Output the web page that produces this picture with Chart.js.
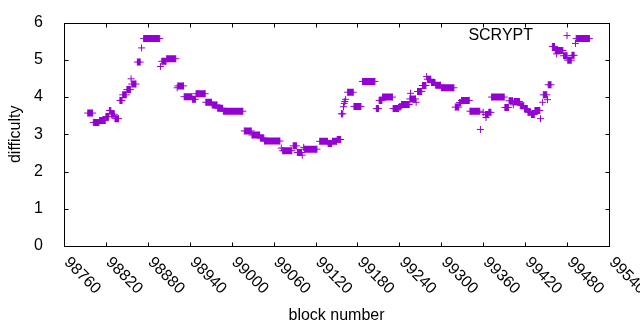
<!DOCTYPE html>
<html>
<head>
<meta charset="utf-8">
<script src="https://cdn.jsdelivr.net/npm/chart.js@4.4.1/dist/chart.umd.min.js"></script>
<style>
  html, body { margin: 0; padding: 0; background: #fff; }
  canvas { display: block; }
</style>
</head>
<body>
<canvas id="diffChart" width="640" height="330"></canvas>
<script>
// DATA ---------------------------------------------------------------------------
// difficulty stays flat over runs of blocks: first block, last block, level
const runStart = [98794, 98802, 98811, 98820, 98825, 98828, 98833, 98840, 98844, 98850,
    98856, 98857, 98865, 98871, 98874, 98898, 98900, 98907, 98922, 98923,
    98932, 98944, 98949, 98963, 98972, 98980, 98988, 99018, 99029, 99041,
    99047, 99071, 99073, 99088, 99094, 99101, 99103, 99104, 99126, 99138,
    99144, 99151, 99157, 99160, 99161, 99162, 99163, 99166, 99175, 99187,
    99207, 99211, 99216, 99231, 99240, 99243, 99255, 99256, 99264, 99266,
    99273, 99279, 99280, 99286, 99292, 99300, 99320, 99326, 99329, 99341,
    99356, 99360, 99363, 99364, 99368, 99372, 99391, 99397, 99403, 99404,
    99413, 99419, 99424, 99429, 99434, 99442, 99445, 99446, 99452, 99453,
    99459, 99463, 99465, 99475, 99481, 99487, 99492, 99493];
const runEnd = [98801, 98810, 98819, 98824, 98827, 98832, 98838, 98843, 98849, 98855,
    98856, 98863, 98869, 98871, 98897, 98898, 98906, 98920, 98922, 98931,
    98943, 98948, 98962, 98971, 98979, 98987, 99016, 99028, 99040, 99046,
    99069, 99071, 99086, 99093, 99100, 99101, 99103, 99122, 99137, 99143,
    99150, 99156, 99159, 99160, 99161, 99162, 99163, 99174, 99185, 99205,
    99210, 99215, 99230, 99239, 99242, 99254, 99263, 99256, 99264, 99272,
    99278, 99279, 99285, 99291, 99299, 99318, 99325, 99328, 99340, 99355,
    99356, 99360, 99367, 99364, 99371, 99390, 99396, 99402, 99403, 99412,
    99418, 99423, 99428, 99433, 99441, 99442, 99445, 99451, 99452, 99457,
    99462, 99474, 99465, 99480, 99486, 99490, 99492, 99512];
const runLevel = [3.57, 3.32, 3.37, 3.48, 3.64, 3.54, 3.42, 3.91, 4.06, 4.20,
    4.49, 4.35, 4.94, 5.32, 5.57, 4.82, 4.96, 5.03, 4.25, 4.30,
    4.01, 3.94, 4.09, 3.86, 3.79, 3.70, 3.62, 3.09, 2.98, 2.90,
    2.82, 2.63, 2.56, 2.69, 2.51, 2.44, 2.65, 2.60, 2.81, 2.75,
    2.81, 2.86, 3.55, 3.74, 3.83, 3.88, 3.94, 4.13, 3.75, 4.42,
    3.69, 3.91, 4.00, 3.69, 3.74, 3.80, 3.95, 4.10, 3.86, 4.15,
    4.31, 4.55, 4.48, 4.39, 4.32, 4.25, 3.73, 3.85, 3.91, 3.62,
    3.13, 3.59, 3.53, 3.45, 3.59, 4.00, 3.72, 3.90, 3.79, 3.88,
    3.77, 3.69, 3.59, 3.53, 3.64, 3.42, 3.86, 4.06, 3.93, 4.33,
    5.36, 5.25, 5.16, 5.11, 4.99, 5.12, 5.44, 5.57];

const seriesName = 'SCRYPT';
const xTitle = 'block number';
const yTitle = 'difficulty';
const xMin = 98760, xMax = 99540, xStep = 60;
const yMin = 0, yMax = 6, yStep = 1;

const PURPLE = '#9400d3';
const FONT = '"Liberation Sans", Arial, sans-serif';

// each run -> its two end points, a null breaks the thick line between runs
const points = [];
runStart.forEach((s, i) => {
    points.push({ x: s, y: runLevel[i] });
    if (runEnd[i] !== s) points.push({ x: runEnd[i], y: runLevel[i] });
    points.push({ x: runEnd[i], y: null });
});

// gnuplot style box, inward ticks, rotated x labels, key ---------------------------
const gnuplotFrame = {
    id: 'gnuplotFrame',
    beforeDatasetsDraw(chart) {
        const { ctx, chartArea: a, scales: { x, y } } = chart;
        const L = Math.round(a.left) + 0.5, R = Math.round(a.right) + 0.5;
        const T = Math.round(a.top) + 0.5, B = Math.round(a.bottom) + 0.5;
        const tick = 4;
        ctx.save();
        ctx.strokeStyle = '#000';
        ctx.lineWidth = 1;
        ctx.strokeRect(L, T, R - L, B - T);
        ctx.beginPath();
        x.ticks.forEach(t => {
            const px = Math.round(x.getPixelForValue(t.value)) + 0.5;
            ctx.moveTo(px, B); ctx.lineTo(px, B - tick);
            ctx.moveTo(px, T); ctx.lineTo(px, T + tick);
        });
        y.ticks.forEach(t => {
            const py = Math.round(y.getPixelForValue(t.value)) + 0.5;
            ctx.moveTo(L, py); ctx.lineTo(L + tick, py);
            ctx.moveTo(R, py); ctx.lineTo(R - tick, py);
        });
        ctx.stroke();

        ctx.fillStyle = '#000';
        ctx.font = '16px ' + FONT;
        ctx.textAlign = 'left';
        ctx.textBaseline = 'middle';
        x.ticks.forEach(t => {
            const px = x.getPixelForValue(t.value);
            ctx.save();
            ctx.translate(px + 2.5, a.bottom + 14);
            ctx.rotate(Math.PI / 4);
            ctx.fillText(String(t.value), 0, 0);
            ctx.restore();
        });
        ctx.restore();
    },
    afterDatasetsDraw(chart) {
        const { ctx, chartArea: a } = chart;
        const ky = a.top + 13;
        const kx = a.right - 42;
        ctx.save();
        ctx.fillStyle = '#000';
        ctx.font = '16px ' + FONT;
        ctx.textAlign = 'right';
        ctx.textBaseline = 'middle';
        ctx.fillText(seriesName, kx - 34, ky);
        ctx.strokeStyle = PURPLE;
        ctx.lineWidth = 1;
        Chart.helpers.drawPoint(ctx, { pointStyle: 'cross', radius: 3.5, borderWidth: 1 }, kx, ky);
        ctx.restore();
    }
};

const ctx = document.getElementById('diffChart').getContext('2d');
Chart.defaults.font.family = FONT;
Chart.defaults.font.size = 16;
Chart.defaults.color = '#000';

new Chart(ctx, {
    type: 'line',
    data: {
        datasets: [{
            label: seriesName,
            data: points,
            borderColor: PURPLE,
            backgroundColor: PURPLE,
            borderWidth: 7,
            borderCapStyle: 'butt',
            pointStyle: 'cross',
            pointRadius: 3.5,
            pointBorderWidth: 1,
            pointBorderColor: PURPLE,
            spanGaps: false,
            tension: 0,
            fill: false
        }]
    },
    options: {
        responsive: false,
        animation: false,
        events: [],
        layout: { padding: { top: 19, right: 31, left: 0, bottom: 0 } },
        plugins: {
            legend: { display: false },
            tooltip: { enabled: false }
        },
        scales: {
            x: {
                type: 'linear',
                min: xMin,
                max: xMax,
                grid: { display: false },
                border: { display: false },
                ticks: { display: false, stepSize: xStep },
                title: { display: true, text: xTitle, padding: { top: 0, bottom: 5 } },
                afterFit: s => { s.height = 84; }
            },
            y: {
                min: yMin,
                max: yMax,
                grid: { display: false },
                border: { display: false },
                ticks: { stepSize: yStep, padding: 13 },
                title: { display: true, text: yTitle, padding: { top: 6, bottom: 0 } },
                afterFit: s => { s.width = 64; }
            }
        }
    },
    plugins: [gnuplotFrame]
});
</script>
</body>
</html>
